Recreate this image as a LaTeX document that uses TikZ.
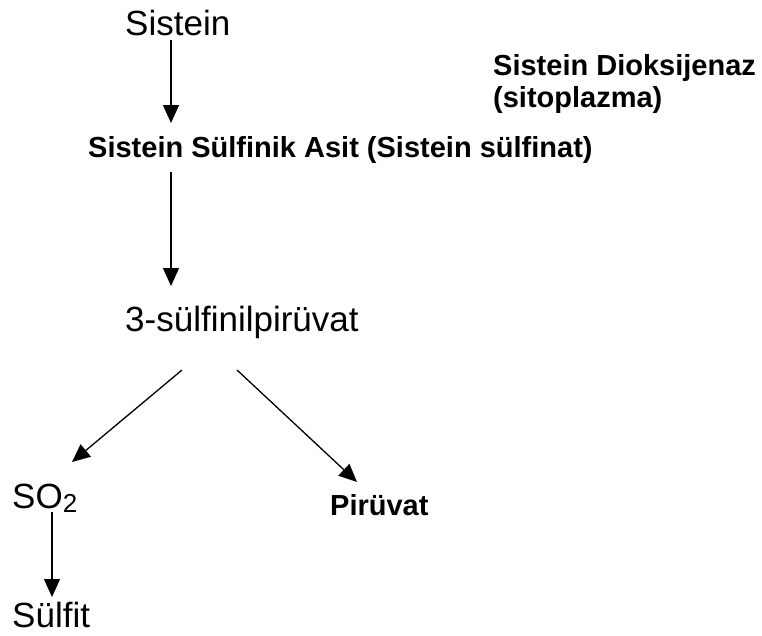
\documentclass[tikz,border=0pt]{standalone}
\usepackage{fontspec}
\setmainfont{Liberation Sans}
\usetikzlibrary{arrows.meta}
\tikzset{
  lbl/.style={anchor=base west, inner sep=0pt, font=\fontsize{35}{40}\selectfont},
  blbl/.style={anchor=base west, inner sep=0pt, font=\fontsize{29}{33}\selectfont\bfseries},
  arr/.style={line width=1.3pt, -{Triangle[length=18pt,width=16pt]}}
}
\begin{document}
\begin{tikzpicture}[x=1pt,y=-1pt]
\useasboundingbox (0,0) rectangle (762,635);
\node[lbl] (sistein) at (125,35) {Sistein};
\node[blbl] (ssa) at (88,157) {Sistein Sülfinik Asit (Sistein sülfinat)};
\node[blbl] (enz1) at (493,75) {Sistein Dioksijenaz};
\node[blbl] (enz2) at (493,107) {(sitoplazma)};
\node[lbl] (sp) at (125,331) {3-sülfinilpirüvat};
\node[lbl] (so) at (12,508) {SO\raisebox{-4pt}{\fontsize{26}{30}\selectfont 2}};
\node[blbl] (pir) at (330,515) {Pirüvat};
\node[lbl] (sulfit) at (12,627) {Sülfit};
\draw[arr] ([shift={(46,5)}]sistein.base west) -- ([shift={(83,-34)}]ssa.base west);
\draw[arr] ([shift={(83,15)}]ssa.base west) -- ([shift={(46,-45)}]sp.base west);
\draw[arr] ([shift={(57,39)}]sp.base west) -- ([shift={(60,-46)}]so.base west);
\draw[arr] ([shift={(112,39)}]sp.base west) -- ([shift={(27,-33)}]pir.base west);
\draw[arr] ([shift={(40,4)}]so.base west) -- ([shift={(40,-30)}]sulfit.base west);
\end{tikzpicture}
\end{document}
